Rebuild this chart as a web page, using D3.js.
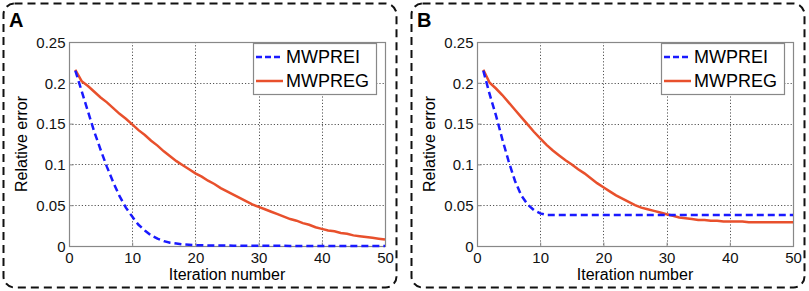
<!DOCTYPE html>
<html>
<head>
<meta charset="utf-8">
<script src="https://cdn.jsdelivr.net/npm/d3@7"></script>
<style>
  body { margin: 0; background: #fff; }
  svg { display: block; font-family: Arial, "Liberation Sans", sans-serif; }
</style>
</head>
<body>
<div id="chart"></div>
<script>
// Relative error vs iteration, two panels (A, B)

const iterations = d3.range(1, 51);

const reiA = [0.215, 0.19, 0.165, 0.14, 0.118, 0.097, 0.078, 0.061, 0.047, 0.036,
  0.026, 0.019, 0.013, 0.009, 0.006, 0.004, 0.003, 0.002, 0.0015, 0.001,
  0.0008, 0.0007, 0.0006, 0.0005, 0.0005, 0.0004, 0.0004, 0.0003, 0.0003, 0.0003,
  0.0002, 0.0002, 0.0002, 0.0002, 0.0001, 0.0001, 0.0001, 0.0001, 0.0001, 0.0001,
  0, 0, 0, 0, 0, 0, 0, 0, 0, 0];

const regA = [0.216, 0.202, 0.196, 0.189, 0.182, 0.176, 0.169, 0.162, 0.156, 0.149,
  0.142, 0.136, 0.129, 0.123, 0.116, 0.110, 0.104, 0.099, 0.094, 0.089,
  0.085, 0.080, 0.076, 0.071, 0.067, 0.063, 0.059, 0.055, 0.051, 0.048,
  0.045, 0.042, 0.039, 0.036, 0.033, 0.031, 0.028, 0.026, 0.023, 0.021,
  0.019, 0.018, 0.016, 0.015, 0.013, 0.012, 0.011, 0.010, 0.009, 0.008];

const reiB = [0.215, 0.186, 0.160, 0.131, 0.104, 0.080, 0.062, 0.051, 0.044, 0.040,
  0.038, 0.038, 0.038, 0.038, 0.038, 0.038, 0.038, 0.038, 0.038, 0.038,
  0.038, 0.038, 0.038, 0.038, 0.038, 0.038, 0.038, 0.038, 0.038, 0.038,
  0.038, 0.038, 0.038, 0.038, 0.038, 0.038, 0.038, 0.038, 0.038, 0.038,
  0.038, 0.038, 0.038, 0.038, 0.038, 0.038, 0.038, 0.038, 0.038, 0.038];

const regB = [0.216, 0.200, 0.193, 0.185, 0.176, 0.167, 0.158, 0.149, 0.140, 0.132,
  0.124, 0.117, 0.111, 0.105, 0.100, 0.094, 0.089, 0.083, 0.077, 0.072,
  0.067, 0.062, 0.058, 0.054, 0.050, 0.047, 0.045, 0.043, 0.041, 0.039,
  0.037, 0.035, 0.034, 0.033, 0.032, 0.032, 0.031, 0.031, 0.030, 0.030,
  0.030, 0.030, 0.029, 0.029, 0.029, 0.029, 0.029, 0.029, 0.029, 0.029];

const seriesNames = ["MWPREI", "MWPREG"];
const xTicks = [0, 10, 20, 30, 40, 50];
const yTicks = [0, 0.05, 0.1, 0.15, 0.2, 0.25];
const yTickLabels = ["0", "0.05", "0.1", "0.15", "0.2", "0.25"];

const panels = [
  { label: "A", x0: 0, rei: reiA, reg: regA },
  { label: "B", x0: 408, rei: reiB, reg: regB }
];

const width = 809, height = 291;
const colors = ["#1a1aff", "#e8502c"];

const svg = d3.select("#chart").append("svg")
  .attr("width", width)
  .attr("height", height);

panels.forEach(p => {
  const g = svg.append("g").attr("transform", `translate(${p.x0},0)`);

  // dashed rounded frame
  g.append("rect")
    .attr("x", 3.5).attr("y", 3.5)
    .attr("width", 393).attr("height", 284)
    .attr("rx", 11)
    .attr("fill", "none")
    .attr("stroke", "#111")
    .attr("stroke-width", 2)
    .attr("stroke-dasharray", "8,5");

  g.append("text")
    .attr("x", 9).attr("y", 27)
    .style("font-size", "20px")
    .style("font-weight", "bold")
    .text(p.label);

  const x = d3.scaleLinear().domain([0, 50]).range([69, 385]);
  const y = d3.scaleLinear().domain([0, 0.25]).range([246, 42]);

  // grid
  const grid = g.append("g")
    .attr("stroke", "#555")
    .attr("stroke-width", 1)
    .attr("stroke-dasharray", "1.2,2");
  xTicks.slice(1, -1).forEach(t => {
    grid.append("line")
      .attr("x1", Math.round(x(t)) + 0.5).attr("x2", Math.round(x(t)) + 0.5)
      .attr("y1", y(0.25)).attr("y2", y(0));
  });
  yTicks.slice(1, -1).forEach(t => {
    grid.append("line")
      .attr("x1", x(0)).attr("x2", x(50))
      .attr("y1", Math.round(y(t)) + 0.5).attr("y2", Math.round(y(t)) + 0.5);
  });

  // axes box
  g.append("rect")
    .attr("x", x(0) + 0.5).attr("y", y(0.25) + 0.5)
    .attr("width", x(50) - x(0)).attr("height", y(0) - y(0.25))
    .attr("fill", "none")
    .attr("stroke", "#888")
    .attr("stroke-width", 1.2);

  // axes (ticks inside)
  const xAxis = g.append("g")
    .attr("transform", `translate(0,${y(0) + 0.5})`)
    .call(d3.axisBottom(x).tickValues(xTicks).tickSizeInner(-4).tickSizeOuter(0).tickPadding(4));
  const yAxis = g.append("g")
    .attr("transform", `translate(${x(0) + 0.5},0)`)
    .call(d3.axisLeft(y).tickValues(yTicks).tickFormat((d, i) => yTickLabels[i])
      .tickSizeInner(-4).tickSizeOuter(0).tickPadding(4));
  [xAxis, yAxis].forEach(a => {
    a.select(".domain").remove();
    a.selectAll("line").attr("stroke", "#888");
    a.selectAll("text")
      .attr("fill", "#111")
      .style("font-size", "15px")
      .style("font-family", "Arial, 'Liberation Sans', sans-serif");
  });
  yAxis.selectAll("text").attr("dy", "0.35em");
  xAxis.selectAll("text").attr("dy", "0.8em");

  // axis labels
  g.append("text")
    .attr("x", (x(0) + x(50)) / 2).attr("y", 280)
    .attr("text-anchor", "middle")
    .style("font-size", "16px")
    .text("Iteration number");
  g.append("text")
    .attr("transform", `translate(27,${(y(0) + y(0.25)) / 2}) rotate(-90)`)
    .attr("text-anchor", "middle")
    .style("font-size", "16px")
    .text("Relative error");

  // lines
  const line = d3.line()
    .x((d, i) => x(iterations[i]))
    .y(d => y(d));

  g.append("path")
    .datum(p.reg)
    .attr("d", line)
    .attr("fill", "none")
    .attr("stroke", colors[1])
    .attr("stroke-width", 2.5);

  g.append("path")
    .datum(p.rei)
    .attr("d", line)
    .attr("fill", "none")
    .attr("stroke", colors[0])
    .attr("stroke-width", 2.5)
    .attr("stroke-dasharray", "7,4");

  // legend
  const lg = g.append("g");
  lg.append("rect")
    .attr("x", 253.5).attr("y", 43.5)
    .attr("width", 123).attr("height", 51)
    .attr("fill", "#fff")
    .attr("stroke", "#888")
    .attr("stroke-width", 1.2);
  seriesNames.forEach((name, i) => {
    const yy = 57 + i * 24;
    lg.append("line")
      .attr("x1", 256).attr("x2", 283)
      .attr("y1", yy).attr("y2", yy)
      .attr("stroke", colors[i])
      .attr("stroke-width", 2.5)
      .attr("stroke-dasharray", i === 0 ? "6,3" : null);
    lg.append("text")
      .attr("x", 286).attr("y", yy)
      .attr("dy", "0.36em")
      .style("font-size", "18px")
      .text(name);
  });
});
</script>
</body>
</html>
